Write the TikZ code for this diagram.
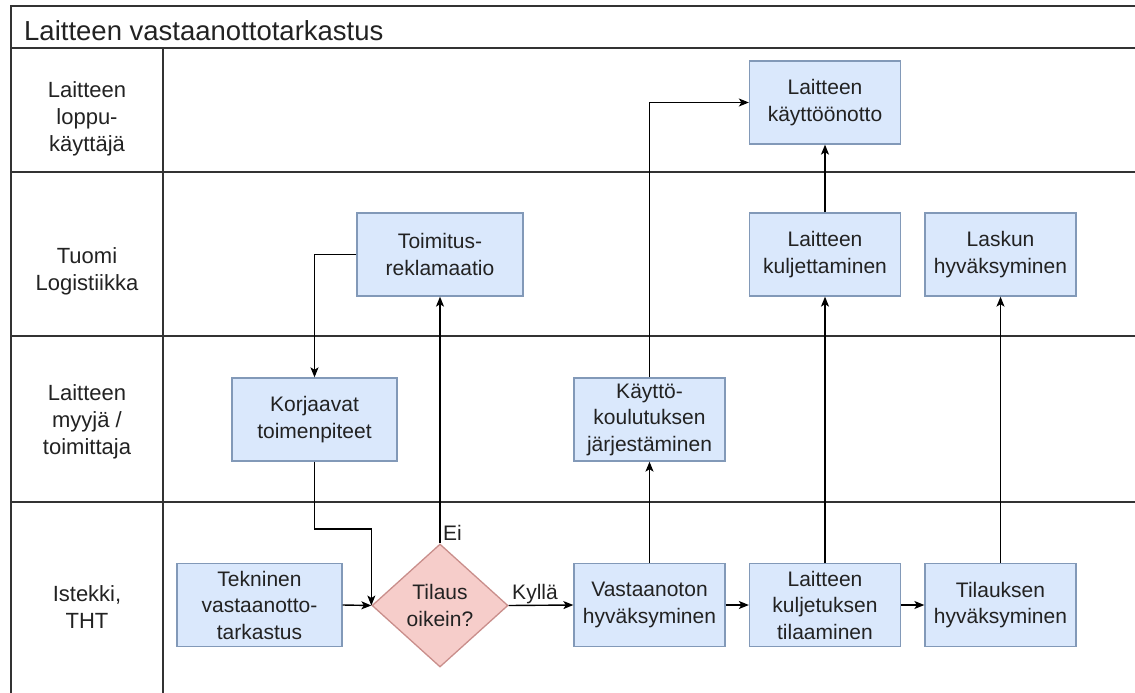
\documentclass[tikz,border=0pt]{standalone}
\usepackage{fontspec}
\setmainfont{Liberation Sans}
\usetikzlibrary{arrows.meta,shapes.geometric,calc}
\definecolor{boxfill}{HTML}{DAE8FC}
\definecolor{boxline}{HTML}{8299B8}
\definecolor{diafill}{HTML}{F6CDCA}
\definecolor{dialine}{HTML}{C98E8B}
\definecolor{frameline}{HTML}{333333}
\definecolor{txt}{HTML}{222222}
\tikzset{
  box/.style={draw=boxline, fill=boxfill, line width=1.3pt, inner sep=0pt,
    minimum height=83pt, align=center, text=txt,
    font=\fontsize{21}{26.5}\selectfont},
  dia/.style={diamond, draw=dialine, fill=diafill, line width=1.3pt, inner sep=0pt,
    minimum width=136pt, minimum height=123pt, shape aspect=1.1, align=center, text=txt,
    font=\fontsize{21}{26.5}\selectfont},
  arr/.style={draw=black, line width=1.4pt, -{Stealth[length=10pt,width=8pt,inset=2.5pt]}},
  frame/.style={draw=frameline, line width=2pt},
  lane/.style={align=center, text=txt, font=\fontsize{22}{27}\selectfont, inner sep=0pt},
  lbl/.style={text=txt, font=\fontsize{21}{26}\selectfont, inner sep=0pt}
}
\begin{document}
\begin{tikzpicture}[x=1pt,y=-1pt]
\useasboundingbox (0,0) rectangle (1135,693);
% frame
\draw[frame] (11,693) -- (11,6) -- (1135,6);
\draw[frame] (11,48) -- (1135,48);
\draw[frame] (11,172) -- (1135,172);
\draw[frame] (11,336) -- (1135,336);
\draw[frame] (11,502) -- (1135,502);
\draw[frame] (163,48) -- (163,693);
\node[anchor=base west, text=txt, font=\fontsize{27.5}{32}\selectfont, inner sep=0pt] (title) at (24,41) {Laitteen vastaanottotarkastus};
% lane labels
\node[lane] (l1) at (87,119) {Laitteen\\loppu-\\käyttäjä};
\node[lane] (l2) at (87,271) {Tuomi\\Logistiikka};
\node[lane] (l3) at (87,422) {Laitteen\\myyjä /\\toimittaja};
\node[lane] (l4) at (87,607) {Istekki,\\THT};
% nodes
\node[box, minimum width=166pt] (toim) at (440,254.5) {Toimitus-\\reklamaatio};
\node[box, minimum width=165pt] (korj) at (314.5,419.5) {Korjaavat\\toimenpiteet};
\node[box, minimum width=165pt] (tek) at (259.5,605) {Tekninen\\vastaanotto-\\tarkastus};
\node[dia] (dia) at (440,605.5) {Tilaus\\oikein?};
\node[box, minimum width=151pt] (vast) at (649.5,605) {Vastaanoton\\hyväksyminen};
\node[box, minimum width=151pt] (kult) at (825,605) {Laitteen\\kuljetuksen\\tilaaminen};
\node[box, minimum width=151pt] (tilh) at (1000.5,605) {Tilauksen\\hyväksyminen};
\node[box, minimum width=151pt] (kay) at (649.5,419.5) {Käyttö-\\koulutuksen\\järjestäminen};
\node[box, minimum width=151pt] (kaot) at (825,102.5) {Laitteen\\käyttöönotto};
\node[box, minimum width=151pt] (kulm) at (825,254.5) {Laitteen\\kuljettaminen};
\node[box, minimum width=151pt] (lask) at (1000.5,254.5) {Laskun\\hyväksyminen};
% connectors
\draw[arr] (toim.west) -| (korj.north);
\coordinate (k1) at (314.5,529);
\draw[arr] (korj.south) -- (k1) -- (dia.west |- k1) -- (dia.west);
\draw[arr] (tek.east) -- (dia.west);
\draw[arr] (dia.north) -- (toim.south);
\node[lbl, anchor=south west] (ei) at (443,541) {Ei};
\draw[arr] (dia.east) -- (vast.west);
\node[lbl, anchor=base] (kylla) at (535,599) {Kyllä};
\draw[arr] (vast.north) -- (kay.south);
\draw[arr] (kay.north) |- (kaot.west);
\draw[arr] (vast.east) -- (kult.west);
\draw[arr] (kult.east) -- (tilh.west);
\draw[arr] (kult.north) -- (kulm.south);
\draw[arr] (kulm.north) -- (kaot.south);
\draw[arr] (tilh.north) -- (lask.south);
\end{tikzpicture}
\end{document}
